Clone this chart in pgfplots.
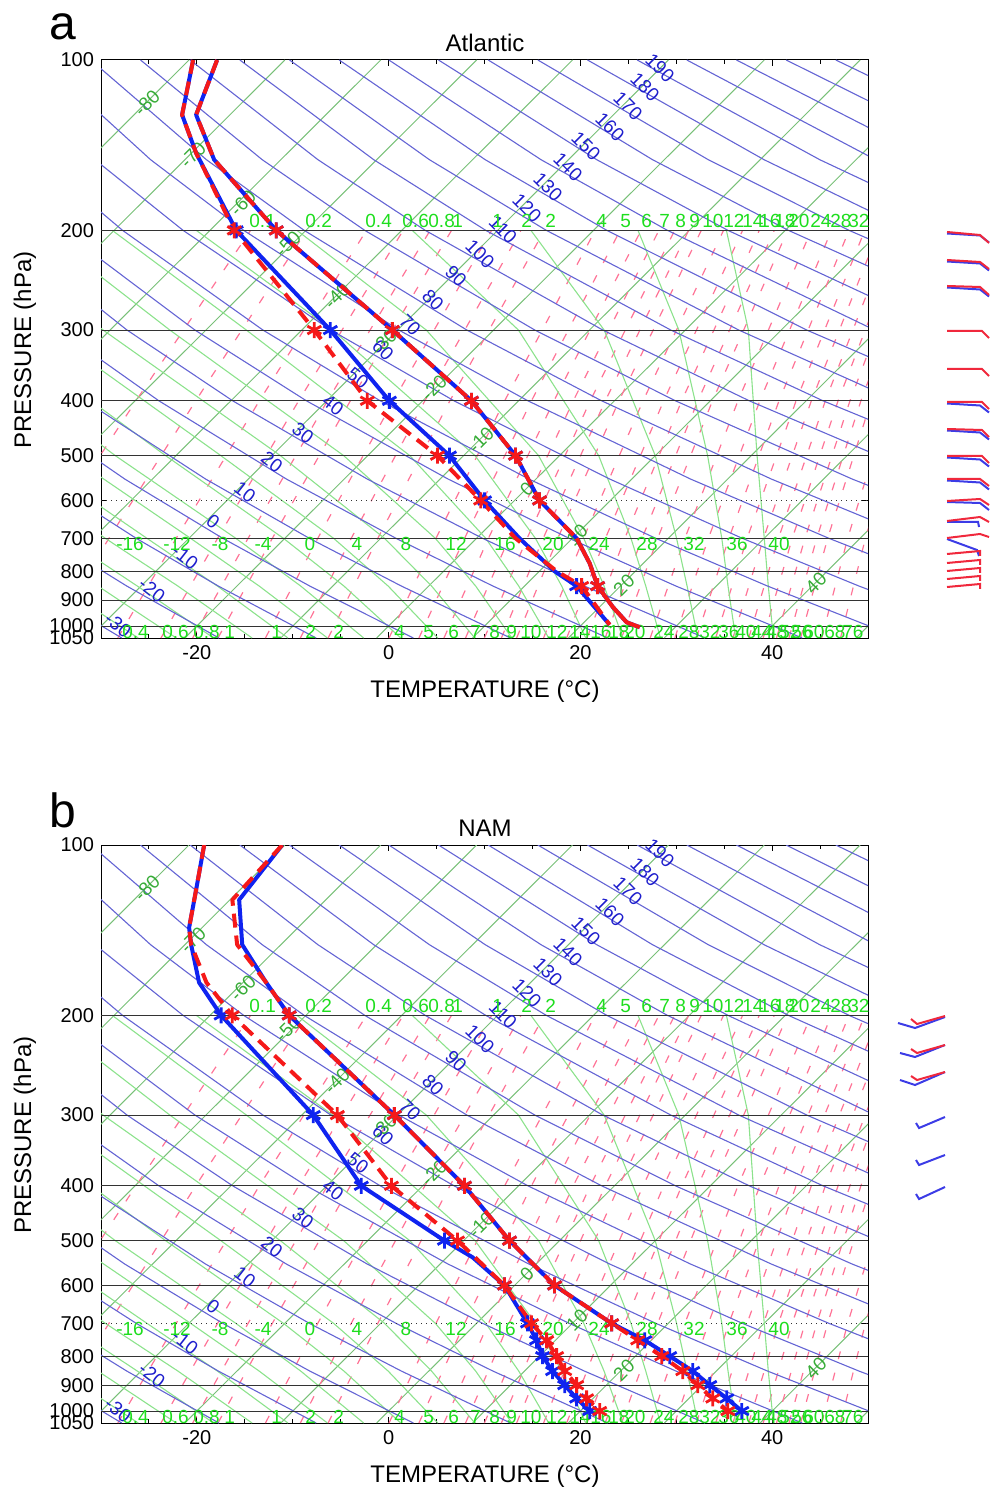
\documentclass[border=0pt]{standalone}
\usepackage{fontspec}
\setmainfont{Liberation Sans}
\usepackage{pgfplots}
\pgfplotsset{compat=1.18}

\definecolor{dryc}{RGB}{100,100,212}
\definecolor{isoc}{RGB}{120,192,120}
\definecolor{moistc}{RGB}{140,226,140}
\definecolor{mixc}{RGB}{255,115,150}
\definecolor{lblblue}{RGB}{30,30,205}
\definecolor{lblgreen}{RGB}{30,222,30}
\definecolor{isolbl}{RGB}{55,172,55}
\definecolor{pblue}{RGB}{15,35,240}
\definecolor{pred}{RGB}{245,25,25}
\definecolor{barbred}{RGB}{240,40,60}
\definecolor{barbblue}{RGB}{60,60,230}

\tikzset{
  skdry/.style={dryc, line width=0.55pt},
  skiso/.style={isoc, line width=0.5pt},
  skmoist/.style={moistc, line width=0.55pt},
  skmix/.style={mixc, line width=0.6pt, dash pattern=on 4pt off 7pt},
  skgrid/.style={black!80, line width=0.5pt},
  skbarb/.style={line width=1pt},
}

\newcommand\isoL[2]{\addplot[skiso] coordinates {(#1,1050) (#2,100)};}
\newcommand\mixL[4]{\addplot[skmix] coordinates {(#1,1050) (#2,700) (#3,400) (#4,200)};}
\newcommand\hgrid[2]{\addplot[skgrid,#2] coordinates {(-30,#1) (50,#1)};}

\newcommand\skewbg{%
\isoL{-81.25}{-20.82}\isoL{-71.25}{-10.82}\isoL{-61.25}{-0.82}\isoL{-51.25}{9.18}
\isoL{-41.25}{19.18}\isoL{-31.25}{29.18}\isoL{-21.25}{39.18}\isoL{-11.25}{49.18}
\isoL{-1.25}{59.18}\isoL{8.75}{69.18}\isoL{18.75}{79.18}\isoL{28.75}{89.18}
\isoL{38.75}{99.18}\isoL{48.75}{109.18}
\mixL{-42.37}{-35.73}{-26.35}{-14.40}
\mixL{-35.54}{-29.17}{-20.12}{-8.54}
\mixL{-28.25}{-22.16}{-13.48}{-2.31}
\mixL{-23.75}{-17.84}{-9.38}{1.52}
\mixL{-20.44}{-14.66}{-6.38}{4.33}
\mixL{-17.80}{-12.13}{-3.99}{6.56}
\mixL{-12.85}{-7.39}{0.49}{10.74}
\mixL{-9.21}{-3.90}{3.78}{13.80}
\mixL{-6.31}{-1.13}{6.39}{16.24}
\mixL{0.04}{4.94}{12.10}{21.55}
\mixL{3.16}{7.92}{14.90}{24.15}
\mixL{5.77}{10.41}{17.24}{26.33}
\mixL{8.02}{12.56}{19.26}{28.19}
\mixL{9.99}{14.44}{21.03}{29.83}
\mixL{11.76}{16.12}{22.60}{31.29}
\mixL{13.35}{17.64}{24.03}{32.61}
\mixL{16.16}{20.32}{26.54}{34.93}
\mixL{18.57}{22.61}{28.69}{36.92}
\mixL{20.69}{24.63}{30.57}{38.66}
\mixL{22.58}{26.43}{32.26}{40.22}
\mixL{24.29}{28.06}{33.78}{41.62}
\mixL{27.28}{30.90}{36.44}{44.08}
\mixL{29.85}{33.35}{38.72}{46.19}
\mixL{32.10}{35.49}{40.72}{48.02}
\mixL{34.11}{37.39}{42.50}{49.66}
\mixL{35.91}{39.10}{44.09}{51.13}
\mixL{37.56}{40.66}{45.55}{52.47}
\mixL{39.07}{42.10}{46.88}{53.70}
\mixL{40.46}{43.42}{48.12}{54.83}
\mixL{41.76}{44.65}{49.26}{55.88}
\mixL{42.97}{45.79}{50.33}{56.86}
\mixL{45.17}{47.88}{52.27}{58.64}
\mixL{47.13}{49.73}{53.99}{60.22}
\addplot[skmoist] coordinates {(-26.11,1050) (-34.36,850)};
\addplot[skmoist] coordinates {(-22.15,1050) (-30.32,850) (-37.80,700)};
\addplot[skmoist] coordinates {(-18.25,1050) (-26.21,850) (-33.74,700)};
\addplot[skmoist] coordinates {(-14.24,1050) (-21.98,850) (-29.55,700) (-41.98,500)};
\addplot[skmoist] coordinates {(-10.50,1050) (-17.86,850) (-25.21,700) (-37.78,500)};
\addplot[skmoist] coordinates {(-6.38,1050) (-13.50,850) (-20.66,700) (-33.29,500)};
\addplot[skmoist] coordinates {(-2.60,1050) (-9.17,850) (-15.94,700) (-28.51,500) (-45.88,300)};
\addplot[skmoist] coordinates {(1.26,1050) (-4.66,850) (-10.97,700) (-23.26,500) (-41.12,300)};
\addplot[skmoist] coordinates {(5.13,1050) (-0.05,850) (-5.74,700) (-17.50,500) (-35.78,300)};
\addplot[skmoist] coordinates {(8.99,1050) (4.48,850) (-0.43,700) (-11.29,500) (-29.78,300) (-42.50,200)};
\addplot[skmoist] coordinates {(12.85,1050) (9.08,850) (4.87,700) (-4.69,500) (-22.82,300) (-36.25,200)};
\addplot[skmoist] coordinates {(16.70,1050) (13.57,850) (10.13,700) (2.21,500) (-14.84,300) (-28.83,200)};
\addplot[skmoist] coordinates {(20.56,1050) (18.05,850) (15.31,700) (9.01,500) (-5.83,300) (-20.06,200)};
\addplot[skmoist] coordinates {(24.44,1050) (22.47,850) (20.35,700) (15.64,500) (3.93,300) (-9.56,200)};
\addplot[skmoist] coordinates {(28.35,1050) (26.82,850) (25.28,700) (21.91,500) (13.54,300) (2.46,200)};
\addplot[skmoist] coordinates {(32.26,1050) (31.13,850) (30.03,700) (27.81,500) (22.48,300) (14.84,200)};
\addplot[skmoist] coordinates {(36.19,1050) (35.40,850) (34.75,700) (33.27,500) (30.27,300) (26.01,200)};
\addplot[skmoist] coordinates {(40.13,1050) (39.60,850) (39.18,700) (38.43,500) (37.52,300) (35.23,200)};
\addplot[skdry] coordinates {(-27.84,1050) (-36.86,850)};
\addplot[skdry] coordinates {(-17.70,1050) (-27.31,850) (-35.36,700)};
\addplot[skdry] coordinates {(-7.56,1050) (-17.76,850) (-26.33,700) (-35.95,550)};
\addplot[skdry] coordinates {(2.58,1050) (-8.22,850) (-17.30,700) (-27.52,550) (-39.36,400)};
\addplot[skdry] coordinates {(12.72,1050) (1.33,850) (-8.27,700) (-19.09,550) (-31.67,400)};
\addplot[skdry] coordinates {(22.86,1050) (10.88,850) (0.77,700) (-10.66,550) (-23.97,400) (-34.38,300)};
\addplot[skdry] coordinates {(33.00,1050) (20.42,850) (9.80,700) (-2.23,550) (-16.27,400) (-27.29,300) (-40.38,200)};
\addplot[skdry] coordinates {(43.14,1050) (29.97,850) (18.83,700) (6.20,550) (-8.58,400) (-20.20,300) (-34.06,200)};
\addplot[skdry] coordinates {(53.28,1050) (39.52,850) (27.86,700) (14.63,550) (-0.88,400) (-13.11,300) (-27.75,200) (-36.46,150)};
\addplot[skdry] coordinates {(63.42,1050) (49.06,850) (36.89,700) (23.06,550) (6.82,400) (-6.02,300) (-21.44,200) (-30.64,150)};
\addplot[skdry] coordinates {(58.61,850) (45.92,700) (31.49,550) (14.52,400) (1.07,300) (-15.12,200) (-24.83,150) (-36.24,100)};
\addplot[skdry] coordinates {(54.95,700) (39.92,550) (22.21,400) (8.16,300) (-8.81,200) (-19.01,150) (-31.06,100)};
\addplot[skdry] coordinates {(63.98,700) (48.35,550) (29.91,400) (15.25,300) (-2.49,200) (-13.19,150) (-25.88,100)};
\addplot[skdry] coordinates {(56.78,550) (37.61,400) (22.34,300) (3.82,200) (-7.38,150) (-20.70,100)};
\addplot[skdry] coordinates {(65.21,550) (45.30,400) (29.43,300) (10.13,200) (-1.56,150) (-15.52,100)};
\addplot[skdry] coordinates {(53.00,400) (36.52,300) (16.45,200) (4.25,150) (-10.34,100)};
\addplot[skdry] coordinates {(60.70,400) (43.61,300) (22.76,200) (10.07,150) (-5.16,100)};
\addplot[skdry] coordinates {(50.69,300) (29.08,200) (15.89,150) (0.02,100)};
\addplot[skdry] coordinates {(57.78,300) (35.39,200) (21.70,150) (5.20,100)};
\addplot[skdry] coordinates {(64.87,300) (41.70,200) (27.52,150) (10.38,100)};
\addplot[skdry] coordinates {(71.96,300) (48.02,200) (33.33,150) (15.56,100)};
\addplot[skdry] coordinates {(54.33,200) (39.15,150) (20.74,100)};
\addplot[skdry] coordinates {(60.65,200) (44.96,150) (25.92,100)};
\addplot[skdry] coordinates {(66.96,200) (50.78,150) (31.10,100)};
\addplot[skdry] coordinates {(73.27,200) (56.60,150) (36.28,100)};
\addplot[skdry] coordinates {(79.59,200) (62.41,150) (41.46,100)};
\addplot[skdry] coordinates {(85.90,200) (68.23,150) (46.64,100)};
}

\newcommand\lblfont{\fontsize{9.5}{11}\selectfont}
\newcommand\glblfont{\fontsize{9.5}{11}\selectfont}
\newcommand\skewlabels[1]{%
\begin{scope}[shift={(0pt,#1)}, x=0.5pt, y=-0.5pt]
 \foreach \lab/\px/\py in {190/660/68,180/645/87,170/628/106,160/610/127,150/586/146,
   140/568/167,130/548/187,120/527/208,110/503/230,100/480/254,90/456/276,80/433/300,
   70/410/325,60/383/350}
   \node[text=lblblue, font=\lblfont, rotate=-45, inner sep=0pt] at (\px,\py) {\lab};
 \foreach \lab/\px/\py in {50/358/378,40/333/405,30/303/433,20/272/462,10/245/492,
   0/213/522,-10/185/557,-20/152/590,-30/118/625}
   \node[text=lblblue, font=\lblfont, rotate=-38, inner sep=0pt] at (\px,\py) {\lab};
 \foreach \lab/\px/\py in {-80/147/103,-70/193/155,-60/243/203,-50/288/244,-40/337/296,
   -30/384/342,-20/434/388,-10/481/440,0/527/489,10/577/535,20/624/585,40/816/583}
   \node[text=isolbl, font=\lblfont, rotate=45, inner sep=0pt] at (\px,\py) {\lab};
 \foreach \lab/\px in {-16/130,-12/177,-8/220,-4/263,0/310,4/357,8/406,12/456,16/505,
   20/553,24/599,28/647,32/694,36/737,40/779}
   \node[text=lblgreen, font=\glblfont, inner sep=0pt] at (\px,544) {\lab};
 \foreach \lab/\px in {0.1/249,0.2/305,0.4/365,0.6/402,0.8/428,1/452,1/492,2/521,2/545,
   4/596,5/620,6/641,7/659,8/675,9/689,10/702,12/723,14/742,16/759,18/774,20/788,
   24/810,28/830,32/848}
   \node[text=lblgreen, font=\glblfont, anchor=west, inner sep=0pt] at (\px,221) {\lab};
 \foreach \lab/\px in {0.4/122,0.6/162,0.8/193,1/224,1/271,2/305,2/333,4/394,5/423,
   6/448,7/470,8/489,9/506,10/520,12/546,14/569,16/590,18/608,20/624,24/653,28/678,
   32/699,36/718,40/735,44/751,48/766,52/779,56/791,60/803,68/824,76/842}
   \node[text=lblgreen, font=\glblfont, anchor=west, inner sep=0pt] at (\px,632) {\lab};
\end{scope}}

\begin{document}
\begin{tikzpicture}
\path[use as bounding box] (0,0) rectangle (494.5pt,745.5pt);

% ---------------- panel a -----------------
\begin{axis}[at={(50.5pt,426.5pt)}, anchor=south west,
    scale only axis, width=383.5pt, height=289pt,
    xmin=-30, xmax=50, ymin=100, ymax=1050,
    ymode=log, y dir=reverse,
    xtick={-20,0,20,40}, xticklabels={-20,0,20,40},
    minor xtick={-30,-25,-15,-10,-5,5,10,15,25,30,35,45,50},
    ytick={100,200,300,400,500,600,700,800,900,1000,1050},
    yticklabels={100,200,300,400,500,600,700,800,900,1000,1050},
    yminorticks=false,
    tick align=inside, major tick length=3pt, minor tick length=2pt,
    axis line style={black, line width=0.5pt},
    tick style={black, line width=0.5pt},
    tick label style={font=\fontsize{10}{12}\selectfont}]
\skewbg
\hgrid{200}{}\hgrid{300}{}\hgrid{400}{}\hgrid{500}{}\hgrid{600}{dotted}
\hgrid{700}{}\hgrid{800}{}\hgrid{900}{}\hgrid{1000}{}
\end{axis}
\skewlabels{745.5pt}
\begin{axis}[at={(50.5pt,426.5pt)}, anchor=south west,
    scale only axis, width=383.5pt, height=289pt,
    xmin=-30, xmax=50, ymin=100, ymax=1050,
    ymode=log, y dir=reverse, hide axis]
% temperature
\addplot[pblue, line width=2pt, line join=round, mark=asterisk, mark size=4pt,
  mark indices={4,5,6,7,8,11}, mark options={solid,line width=1.4pt}] coordinates {
 (-17.89,100) (-20.08,125) (-18.20,150) (-11.72,200) (0.39,300) (8.64,400) (13.24,500)
 (15.74,600) (19.61,700) (20.97,775) (21.80,850) (23.37,925) (24.83,985) (26.19,1005)};
\addplot[pred, line width=2pt, line join=round, dash pattern=on 7pt off 4pt, mark=asterisk, mark size=4pt,
  mark indices={4,5,6,7,8}, mark options={solid,line width=1.4pt}] coordinates {
 (-17.89,100) (-20.08,125) (-18.20,150) (-11.72,200) (0.39,300) (8.64,400) (13.24,500)
 (15.74,600) (19.61,700)};
\addplot[pred, line width=2pt, line join=round, mark=asterisk, mark size=4pt,
  mark indices={3}, mark options={solid,line width=1.4pt}] coordinates {
 (19.61,700) (20.97,775) (21.80,850) (23.37,925) (24.83,985) (26.19,1005)};
% dew point
\addplot[pblue, line width=2pt, line join=round, mark=asterisk, mark size=4pt,
  mark indices={4,5,6,7,8,11}, mark options={solid,line width=1.4pt}] coordinates {
 (-20.39,100) (-21.54,125) (-20.08,146) (-15.90,200) (-6.08,300) (0.08,400) (6.34,500)
 (10.00,600) (13.65,700) (17.30,800) (19.61,850) (23.05,995)};
\addplot[pred, line width=2pt, line join=round, dash pattern=on 7pt off 4pt, mark=asterisk, mark size=4pt,
  mark indices={4,5,6,7,8,11}, mark options={solid,line width=1.4pt}] coordinates {
 (-20.39,100) (-21.54,125) (-20.08,146) (-16.10,200) (-7.75,300) (-2.22,400) (5.09,500)
 (9.60,600) (13.24,700) (17.52,800) (20.13,850) (23.05,995)};
\end{axis}

% ---------------- panel b -----------------
\begin{axis}[at={(50.5pt,34pt)}, anchor=south west,
    scale only axis, width=383.5pt, height=289pt,
    xmin=-30, xmax=50, ymin=100, ymax=1050,
    ymode=log, y dir=reverse,
    xtick={-20,0,20,40}, xticklabels={-20,0,20,40},
    minor xtick={-30,-25,-15,-10,-5,5,10,15,25,30,35,45,50},
    ytick={100,200,300,400,500,600,700,800,900,1000,1050},
    yticklabels={100,200,300,400,500,600,700,800,900,1000,1050},
    yminorticks=false,
    tick align=inside, major tick length=3pt, minor tick length=2pt,
    axis line style={black, line width=0.5pt},
    tick style={black, line width=0.5pt},
    tick label style={font=\fontsize{10}{12}\selectfont}]
\skewbg
\hgrid{200}{}\hgrid{300}{}\hgrid{400}{}\hgrid{500}{}\hgrid{600}{}
\hgrid{700}{dotted}\hgrid{800}{}\hgrid{900}{}\hgrid{1000}{}
\end{axis}
\skewlabels{353pt}
\begin{axis}[at={(50.5pt,34pt)}, anchor=south west,
    scale only axis, width=383.5pt, height=289pt,
    xmin=-30, xmax=50, ymin=100, ymax=1050,
    ymode=log, y dir=reverse, hide axis]
\addplot[pblue, line width=2pt, line join=round, mark=asterisk, mark size=4pt,
  mark indices={5,6,7,8,9,10,11,12,13,14,15,16}, mark options={solid,line width=1.4pt}] coordinates {
 (-11.10,100) (-15.59,125) (-15.27,150) (-12.77,175) (-10.37,200) (0.60,300) (7.91,400)
 (12.61,500) (17.31,600) (23.26,700) (26.71,750) (29.32,800) (31.72,850) (33.50,900)
 (35.27,950) (36.84,1000)};
\addplot[pred, line width=2pt, line join=round, dash pattern=on 7pt off 4pt, mark=asterisk, mark size=4pt,
  mark indices={5,6,7,8,9,10,11,12,13,14,15,16}, mark options={solid,line width=1.4pt}] coordinates {
 (-11.10,100) (-16.30,125) (-15.80,150) (-12.77,175) (-10.37,200) (0.60,300) (7.91,400)
 (12.61,500) (17.31,600) (23.26,700) (25.98,750) (28.49,800) (30.68,850) (32.25,900)
 (33.81,950) (35.38,1000)};
\addplot[pblue, line width=2pt, line join=round, mark=asterisk, mark size=4pt,
  mark indices={6,7,8,9,11,12,13,14,15,16,17,18}, mark options={solid,line width=1.4pt}] coordinates {
 (-19.24,100) (-20.08,120) (-20.81,140) (-20.60,150) (-19.77,175) (-17.47,200) (-7.86,300)
 (-2.85,400) (5.82,500) (8.75,535) (12.09,600) (14.49,700) (15.43,750) (16.06,800)
 (17.10,850) (18.36,900) (19.61,950) (20.97,1000)};
\addplot[pred, line width=2pt, line join=round, dash pattern=on 7pt off 4pt, mark=asterisk, mark size=4pt,
  mark indices={6,7,8,9,10,11,12,13,14,15,16,17}, mark options={solid,line width=1.4pt}] coordinates {
 (-19.24,100) (-20.08,120) (-20.81,140) (-20.60,150) (-19.00,175) (-16.32,200) (-5.35,300)
 (0.29,400) (7.18,500) (12.09,600) (14.91,700) (16.48,750) (17.52,800) (18.36,850)
 (19.61,900) (20.65,950) (22.01,1000)};
\end{axis}

% ---------------- wind barbs (pixel frame) -----------------
\begin{axis}[hide axis, scale only axis, width=494.5pt, height=745.5pt,
  xmin=0, xmax=989, ymin=0, ymax=1491, y dir=reverse,
  at={(0pt,0pt)}, anchor=south west, clip=false]
\addplot[barbblue, skbarb] coordinates {(947,233.5) (980,235.5) (989,242.5)};
\addplot[barbblue, skbarb] coordinates {(947,261.5) (980,263.5) (989,270.5)};
\addplot[barbblue, skbarb] coordinates {(947,287.5) (980,289.5) (989,296.5)};
\addplot[barbblue, skbarb] coordinates {(947,403.5) (980,405.5) (989,412.5)};
\addplot[barbblue, skbarb] coordinates {(947,430.5) (980,432.5) (989,439.5)};
\addplot[barbblue, skbarb] coordinates {(947,457.5) (980,459.5) (989,466.5)};
\addplot[barbblue, skbarb] coordinates {(947,480.5) (980,482.5) (989,489.5)};
\addplot[barbblue, skbarb] coordinates {(947,502) (980,503) (989,510)};
\addplot[barbblue, skbarb] coordinates {(947,522) (978,522) (979,527)};
\addplot[barbblue, skbarb] coordinates {(947,539) (977,550) (979,556)};
\addplot[barbred, skbarb] coordinates {(947,232) (980,235) (989,243)};
\addplot[barbred, skbarb] coordinates {(947,260) (980,262) (989,269)};
\addplot[barbred, skbarb] coordinates {(947,286) (980,287) (989,295)};
\addplot[barbred, skbarb] coordinates {(947,331) (982,331) (989,338)};
\addplot[barbred, skbarb] coordinates {(947,369) (982,369) (989,376)};
\addplot[barbred, skbarb] coordinates {(947,402) (982,402) (989,409)};
\addplot[barbred, skbarb] coordinates {(947,429) (982,430) (989,437)};
\addplot[barbred, skbarb] coordinates {(947,456) (982,456) (989,463)};
\addplot[barbred, skbarb] coordinates {(947,479) (980,479) (989,486)};
\addplot[barbred, skbarb] coordinates {(947,501) (980,499) (989,505)};
\addplot[barbred, skbarb] coordinates {(947,521) (980,517) (989,522)};
\addplot[barbred, skbarb] coordinates {(947,538) (980,534) (989,537)};
\addplot[barbred, skbarb] coordinates {(947,554) (980,551) (980,556)};
\addplot[barbred, skbarb] coordinates {(947,563) (980,560) (980,565)};
\addplot[barbred, skbarb] coordinates {(947,571) (980,568) (980,573)};
\addplot[barbred, skbarb] coordinates {(947,579) (980,576) (980,581)};
\addplot[barbred, skbarb] coordinates {(947,587) (980,584) (980,589)};
\addplot[barbblue, skbarb] coordinates {(898,1023) (915,1028) (945,1017)};
\addplot[barbblue, skbarb] coordinates {(900,1053) (915,1057) (945,1045)};
\addplot[barbblue, skbarb] coordinates {(900,1080) (915,1085) (945,1072)};
\addplot[barbblue, skbarb] coordinates {(945,1117) (919,1128) (916,1123)};
\addplot[barbblue, skbarb] coordinates {(945,1155) (919,1165) (916,1160)};
\addplot[barbblue, skbarb] coordinates {(945,1187) (919,1199) (916,1194)};
\addplot[barbred, skbarb] coordinates {(945,1016) (917,1024) (911,1019)};
\addplot[barbred, skbarb] coordinates {(945,1045) (917,1053) (911,1049)};
\addplot[barbred, skbarb] coordinates {(945,1072) (917,1080) (911,1076)};
\end{axis}

% ---------------- titles and axis labels -----------------
\begin{scope}[shift={(0pt,745.5pt)}, x=0.5pt, y=-0.5pt]
\node[font=\fontsize{24}{28}\selectfont, inner sep=0pt] at (63,27) {a};
\node[font=\fontsize{24}{28}\selectfont, inner sep=0pt] at (63,810) {b};
\node[font=\fontsize{12}{14}\selectfont] at (485,43) {Atlantic};
\node[font=\fontsize{12}{14}\selectfont] at (485,828) {NAM};
\node[font=\fontsize{12}{14}\selectfont] at (485,691) {TEMPERATURE (°C)};
\node[font=\fontsize{12}{14}\selectfont] at (485,1476) {TEMPERATURE (°C)};
\node[font=\fontsize{12}{14}\selectfont, rotate=90] at (25,350) {PRESSURE (hPa)};
\node[font=\fontsize{12}{14}\selectfont, rotate=90] at (25,1135) {PRESSURE (hPa)};
\end{scope}
\end{tikzpicture}
\end{document}
